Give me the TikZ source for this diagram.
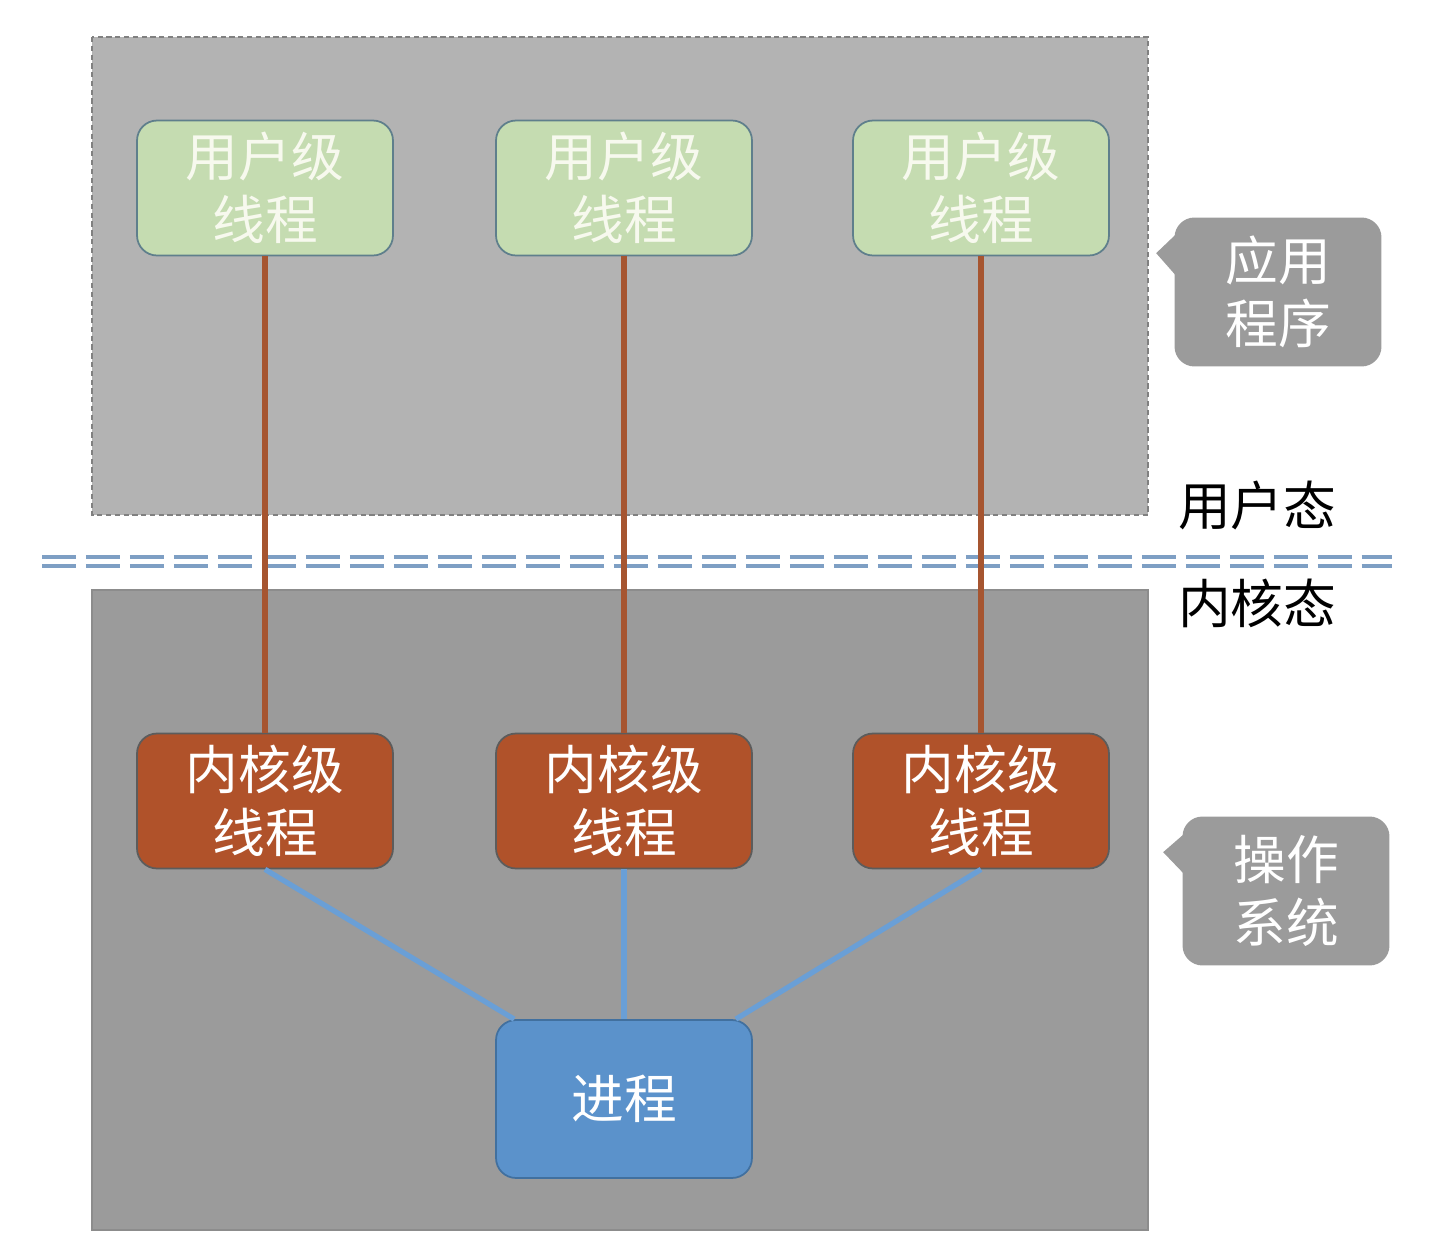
\documentclass[tikz,border=0pt]{standalone}
\usepackage{fontspec}
\newfontfamily\cjk{Noto Sans CJK SC}
\usetikzlibrary{calc}

\definecolor{topgray}{HTML}{B3B3B3}
\definecolor{botgray}{HTML}{9B9B9B}
\definecolor{userfill}{HTML}{C5DCB1}
\definecolor{userdraw}{HTML}{5F7F8C}
\definecolor{usertext}{HTML}{F7F9EE}
\definecolor{kernfill}{HTML}{B0522A}
\definecolor{kerndraw}{HTML}{5C5C5C}
\definecolor{procfill}{HTML}{5B92CB}
\definecolor{procdraw}{HTML}{41709F}
\definecolor{brownline}{HTML}{A65530}
\definecolor{blueline}{HTML}{6A9FD6}
\definecolor{sepline}{HTML}{7E9FC4}
\definecolor{callgray}{HTML}{9B9B9B}

\begin{document}
\begin{tikzpicture}[x=0.02cm, y=-0.02cm,
    txt/.style={font=\cjk\fontsize{30}{36}\selectfont},
    box/.style={txt, rounded corners=0.4cm, minimum width=5.12cm, minimum height=2.7cm,
      align=center, inner sep=0pt, line width=1pt},
    userbox/.style={box, fill=userfill, draw=userdraw, text=usertext},
    kernbox/.style={box, fill=kernfill, draw=kerndraw, text=white},
    procbox/.style={box, fill=procfill, draw=procdraw, text=white, minimum height=3.16cm},
    callbox/.style={txt, fill=callgray, text=white, rounded corners=0.4cm, align=center,
      minimum width=4.14cm, minimum height=2.98cm, inner sep=0pt},
    uline/.style={brownline, line width=3.2pt},
    kline/.style={blueline, line width=3pt},
    sep/.style={sepline, line width=2.2pt, dash pattern=on 0.68cm off 0.2cm}]
  \useasboundingbox (0,0) rectangle (1438,1254);

  % user space and kernel space
  \fill[topgray] (92,37) rectangle (1148,515);
  \draw[gray, densely dashed, line width=0.6pt] (92,37) rectangle (1148,515);
  \fill[botgray] (92,590) rectangle (1148,1230);
  \draw[black!45, line width=0.8pt] (92,590) rectangle (1148,1230);

  \coordinate (sepL) at (42,557);
  \coordinate (sepR) at (1392,557);
  \draw[sep] (sepL) -- (sepR);
  \draw[sep] ($(sepL)+(0,9)$) -- ($(sepR)+(0,9)$);

  \node[txt, anchor=west] (ustate) at (1172,505) {用户态};
  \node[txt, anchor=west] (kstate) at (1172,603) {内核态};

  % threads
  \foreach \i/\x in {1/265, 2/624, 3/981}
    {
      \node[userbox] (u\i) at (\x,188) {用户级\\线程};
      \node[kernbox] (k\i) at (\x,801) {内核级\\线程};
    }
  \node[procbox] (proc) at (624,1099) {进程};

  \foreach \i in {1,2,3}
    \draw[uline] (u\i.south) -- (k\i.north);
  \draw[kline] (k1.south) -- ([xshift=0.38cm]proc.north west);
  \draw[kline] (k2.south) -- (proc.north);
  \draw[kline] (k3.south) -- ([xshift=-0.34cm]proc.north east);

  % callouts
  \node[callbox] (app) at (1278,292) {应用\\程序};
  \fill[callgray] ($(app.north west)+(4,15)$) -- ($(app.north west)+(-18,36)$)
    -- ($(app.north west)+(4,61)$) -- cycle;
  \node[callbox] (os) at (1286,891) {操作\\系统};
  \fill[callgray] ($(os.north west)+(4,16)$) -- ($(os.north west)+(-19,36)$)
    -- ($(os.north west)+(4,60)$) -- cycle;
\end{tikzpicture}
\end{document}
